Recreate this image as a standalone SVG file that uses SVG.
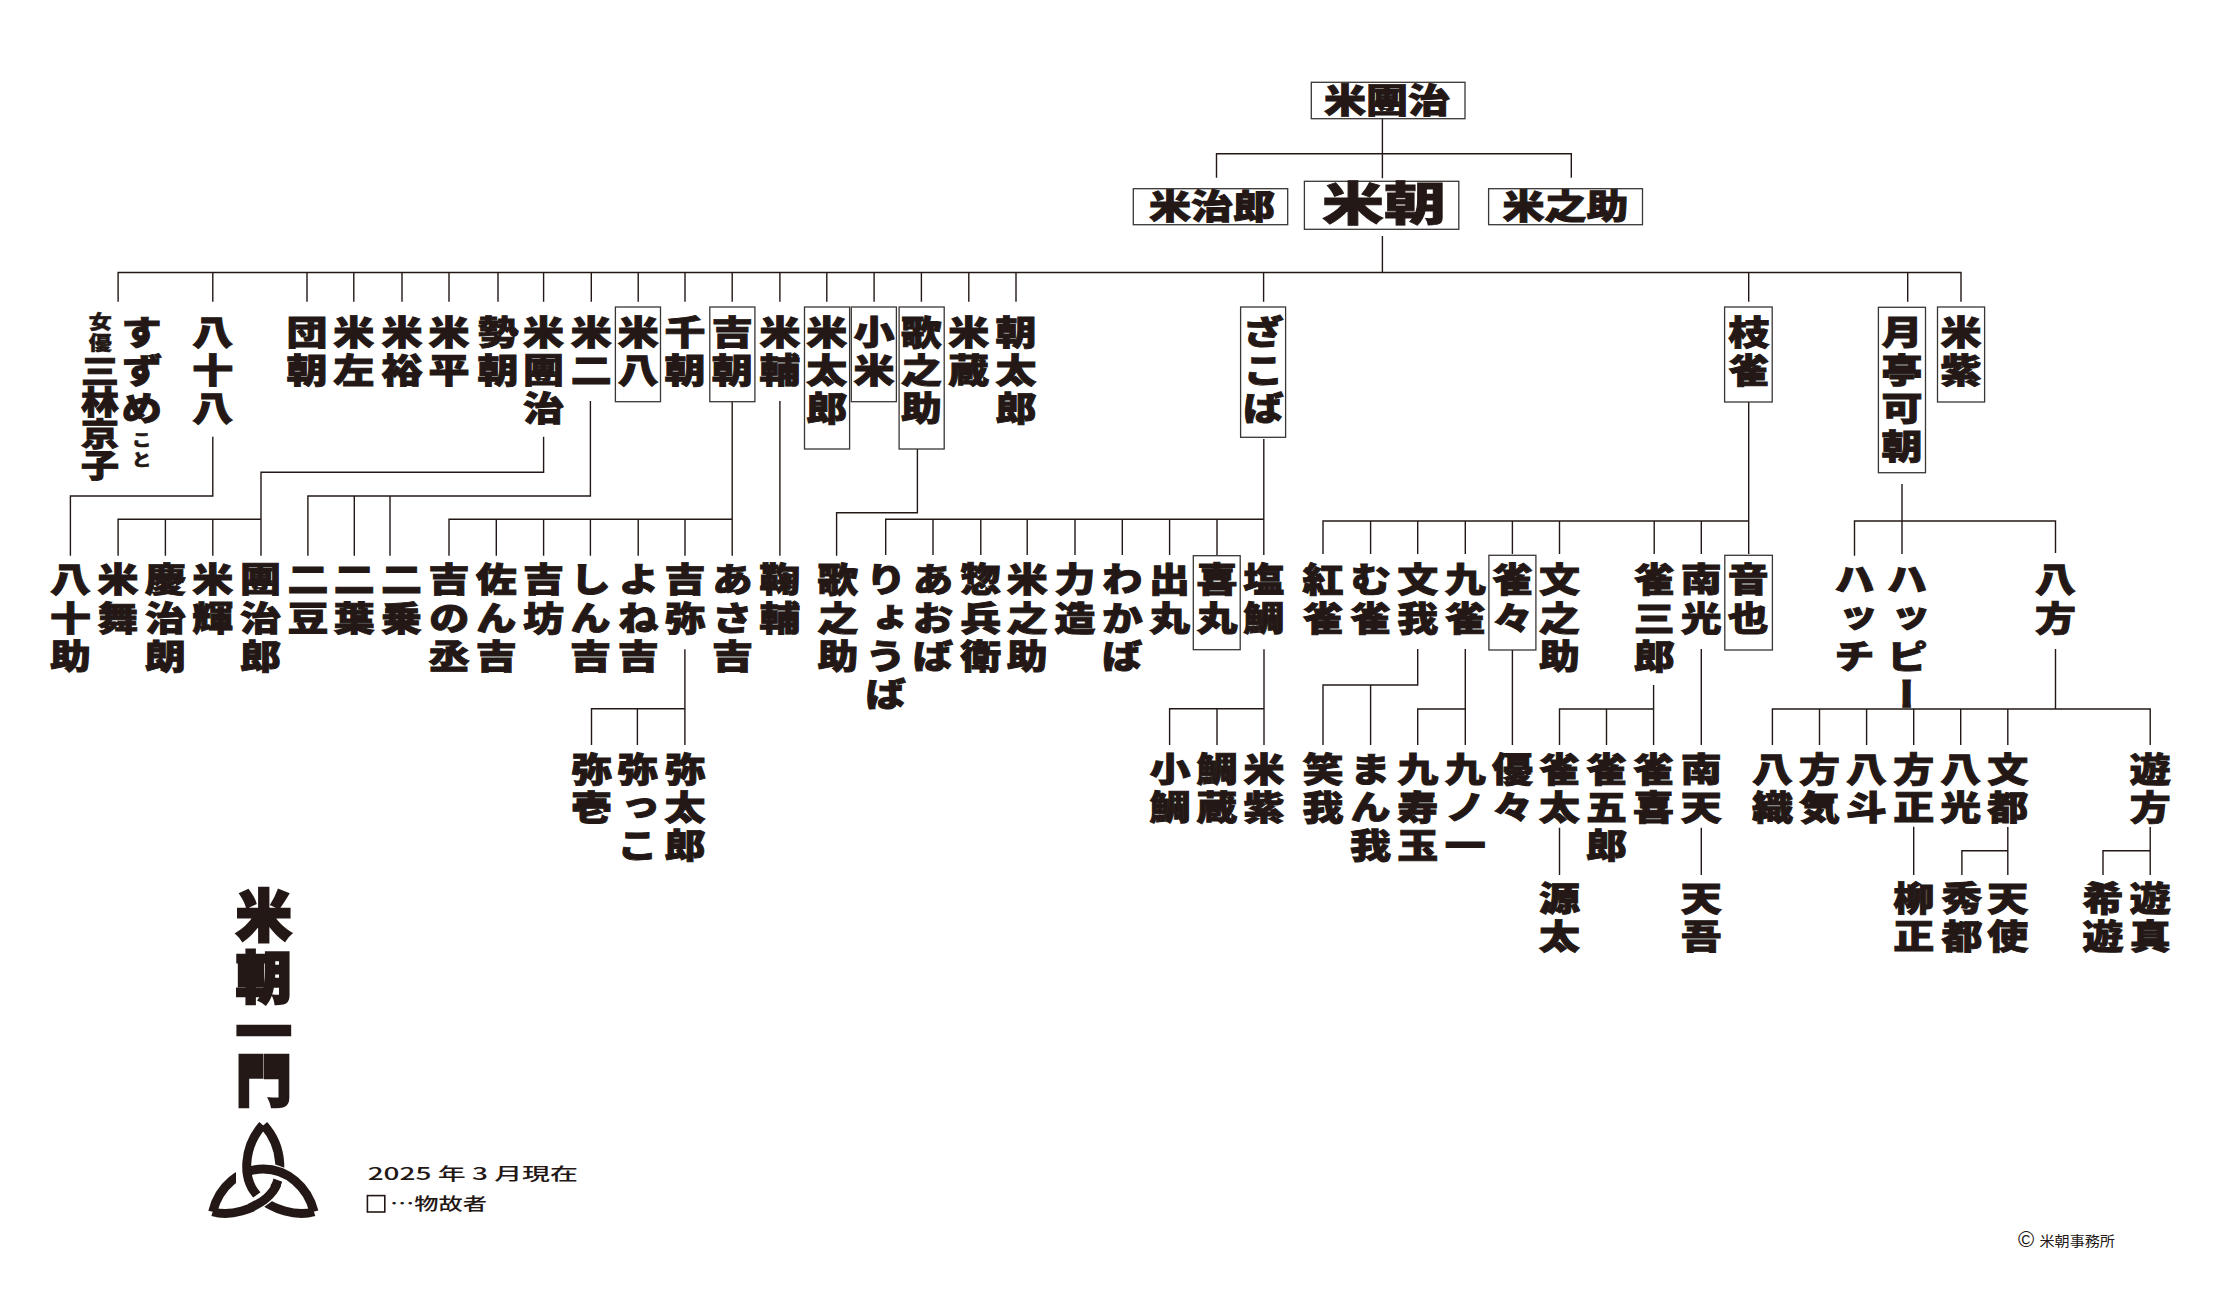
<svg xmlns="http://www.w3.org/2000/svg" width="2221" height="1300" viewBox="0 0 2221 1300">
<style>
.l{stroke:#231815;stroke-width:1.4;fill:none}
.b{fill:#fff;stroke:#3a3634;stroke-width:1.3}
text{font-family:"Noto Sans CJK JP","Noto Sans",sans-serif;fill:#231815}
.v{font-size:41px;font-weight:900;writing-mode:vertical-rl;letter-spacing:5px;stroke:#231815;stroke-width:1.1}
.h{font-size:42px;font-weight:900;text-anchor:middle;stroke:#231815;stroke-width:1.1}
.k{fill:none;stroke:#231815;stroke-width:9}
.w{fill:none;stroke:#fff;stroke-width:14}
</style>
<rect width="2221" height="1300" fill="#fff"/>
<g id="connectors">
<path class="l" d="M1382.4 118.7V178.3M1216.5 177.7V153.7H1571.3V177.7"/>
<path class="l" d="M1382.4 236V272.5M118.1 301.7V272.5H1961V301.7M212.8 272.5V301.7M307 272.5V301.7M353.8 272.5V301.7M402 272.5V301.7M449 272.5V301.7M498 272.5V301.7M543.6 272.5V301.7M591.3 272.5V301.7M638.2 272.5V301.7M685 272.5V301.7M732.2 272.5V301.7M779.9 272.5V301.7M826.8 272.5V301.7M874.1 272.5V301.7M921.4 272.5V301.7M968.8 272.5V301.7M1016 272.5V301.7M1263.6 272.5V301.7M1748.7 272.5V301.7M1907.7 272.5V301.7"/>
<path class="l" d="M212.8 436.7V496H70.4V555.7"/>
<path class="l" d="M543.6 436.7V472.3H261V555.7M118.1 555.7V519.3H261M165.4 519.3V555.7M212.8 519.3V555.7"/>
<path class="l" d="M590.4 401V496H307.9V555.7M354.3 496V555.7M390 496V555.7"/>
<path class="l" d="M732.2 402V555.7M449 555.7V519.3H732.2M496.3 519.3V555.7M543.6 519.3V555.7M590.4 519.3V555.7M638.2 519.3V555.7M685 519.3V555.7"/>
<path class="l" d="M779.9 401V555.7"/>
<path class="l" d="M917.4 449V512.7H836.6V555.7"/>
<path class="l" d="M1263.8 439V555M885.7 555V519.3H1263.8M933 519.3V555M980.8 519.3V555M1027.2 519.3V555M1075 519.3V555M1122.3 519.3V555M1169.6 519.3V555M1217 519.3V555"/>
<path class="l" d="M1748.7 402V554M1323 554V521H1748.7M1370.6 521V554M1417.7 521V554M1465.3 521V554M1512.4 521V554M1559.5 521V554M1654.2 521V554M1701.3 521V554"/>
<path class="l" d="M1902 484V554M1854.5 555.7V521H2055.5V553"/>
<path class="l" d="M684.9 649.3V745M591.5 745V708.7H684.9M637.4 708.7V745"/>
<path class="l" d="M1264 649.3V745M1169.6 745V708.7H1264M1217 708.7V745"/>
<path class="l" d="M1417.7 649V685H1323V745M1370.6 685V745"/>
<path class="l" d="M1465.3 649V745M1417.7 745V709H1465.3"/>
<path class="l" d="M1512.4 650V745"/>
<path class="l" d="M1653.6 685V745M1559.5 745V709H1653.6M1606.5 709V745"/>
<path class="l" d="M1701.3 649V745"/>
<path class="l" d="M2055.5 649V709M1772.4 745V709H2150.2V745M1819.5 709V745M1866.6 709V745M1913.7 709V745M1960.7 709V745M2007.8 709V745"/>
<path class="l" d="M1559.5 827.7V875M1701.3 827.7V875M1913.7 826.7V875"/>
<path class="l" d="M2007.8 827V875M1961.9 875V850.7H2007.8"/>
<path class="l" d="M2150.2 827V875M2103 875V850.7H2150.2"/>
</g>
<g id="n-beidanji"><rect class="b" x="1311.3" y="82.3" width="153.7" height="36.4"/><text class="h" transform="translate(1387 112.5) scale(1 .8)">米團治</text></g>
<g id="n-yoneji"><rect class="b" x="1133.3" y="188.7" width="154.4" height="36"/><text class="h" transform="translate(1212 219) scale(1 .8)">米治郎</text></g>
<g id="n-beicho"><rect class="b" x="1304.4" y="181.3" width="154.4" height="48"/><text class="h" style="font-size:62px" transform="translate(1384 220) scale(1 .74)">米朝</text></g>
<g id="n-yonenosuke"><rect class="b" x="1488.6" y="188.7" width="153.9" height="36"/><text class="h" transform="translate(1565.5 219) scale(1 .8)">米之助</text></g>
<g id="n-suzume"><text class="v" transform="translate(141.8 315) scale(1 .83)">すずめ</text><text class="v" style="font-size:20px;letter-spacing:4px;stroke-width:.6" transform="translate(141.8 431) scale(1 .83)">こと</text><text class="v" style="font-size:23px;letter-spacing:3px;stroke-width:.6" transform="translate(100.3 312) scale(1 .83)">女優</text><text class="v" style="font-size:38px;letter-spacing:0" transform="translate(100 355) scale(1 .83)">三林京子</text></g>
<g id="n-yasohachi"><text class="v" transform="translate(212.8 315) scale(1 .83)">八十八</text></g>
<g id="n-dancho"><text class="v" transform="translate(307 315) scale(1 .83)">団朝</text></g>
<g id="n-beisa"><text class="v" transform="translate(353.8 315) scale(1 .83)">米左</text></g>
<g id="n-beiyu"><text class="v" transform="translate(402 315) scale(1 .83)">米裕</text></g>
<g id="n-beihei"><text class="v" transform="translate(449 315) scale(1 .83)">米平</text></g>
<g id="n-seicho"><text class="v" transform="translate(498 315) scale(1 .83)">勢朝</text></g>
<g id="n-yonedanji"><text class="v" transform="translate(543.6 315) scale(1 .83)">米團治</text></g>
<g id="n-yoneji2"><text class="v" transform="translate(591.3 315) scale(1 .83)">米二</text></g>
<g id="n-beihachi"><rect class="b" x="615.4" y="307" width="45.1" height="94.7"/><text class="v" transform="translate(638.2 315) scale(1 .83)">米八</text></g>
<g id="n-sencho"><text class="v" transform="translate(685 315) scale(1 .83)">千朝</text></g>
<g id="n-kiccho"><rect class="b" x="709.8" y="307" width="45.1" height="94.7"/><text class="v" transform="translate(732.2 315) scale(1 .83)">吉朝</text></g>
<g id="n-beisuke"><text class="v" transform="translate(779.9 315) scale(1 .83)">米輔</text></g>
<g id="n-yonetaro"><rect class="b" x="804.5" y="307" width="45.1" height="142"/><text class="v" transform="translate(826.8 315) scale(1 .83)">米太郎</text></g>
<g id="n-koyone"><rect class="b" x="851.3" y="307" width="45.1" height="94.7"/><text class="v" transform="translate(874.1 315) scale(1 .83)">小米</text></g>
<g id="n-utanosuke"><rect class="b" x="899.1" y="307" width="45.1" height="142"/><text class="v" transform="translate(921.4 315) scale(1 .83)">歌之助</text></g>
<g id="n-yonezo"><text class="v" transform="translate(968.8 315) scale(1 .83)">米蔵</text></g>
<g id="n-asataro"><text class="v" transform="translate(1016 315) scale(1 .83)">朝太郎</text></g>
<g id="n-zakoba"><rect class="b" x="1240.6" y="307" width="45" height="130.3"/><text class="v" transform="translate(1263.6 315) scale(1 .83)">ざこば</text></g>
<g id="n-shijaku"><rect class="b" x="1724.6" y="307" width="47.6" height="95"/><text class="v" transform="translate(1748.7 315) scale(1 .83)">枝雀</text></g>
<g id="n-kacho"><rect class="b" x="1878.4" y="307.3" width="47.1" height="165.4"/><text class="v" transform="translate(1902 315) scale(1 .83)">月亭可朝</text></g>
<g id="n-yonemurasaki"><rect class="b" x="1937.5" y="307" width="47.1" height="95"/><text class="v" transform="translate(1961 315) scale(1 .83)">米紫</text></g>
<g id="n2-1"><text class="v" transform="translate(70.4 562.5) scale(1 .83)">八十助</text></g>
<g id="n2-2"><text class="v" transform="translate(118.1 562.5) scale(1 .83)">米舞</text></g>
<g id="n2-3"><text class="v" transform="translate(165.4 562.5) scale(1 .83)">慶治朗</text></g>
<g id="n2-4"><text class="v" transform="translate(212.8 562.5) scale(1 .83)">米輝</text></g>
<g id="n2-5"><text class="v" transform="translate(260.5 562.5) scale(1 .83)">團治郎</text></g>
<g id="n2-6"><text class="v" transform="translate(307.9 562.5) scale(1 .83)">二豆</text></g>
<g id="n2-7"><text class="v" transform="translate(354.3 562.5) scale(1 .83)">二葉</text></g>
<g id="n2-8"><text class="v" transform="translate(401.6 562.5) scale(1 .83)">二乗</text></g>
<g id="n2-9"><text class="v" transform="translate(449 562.5) scale(1 .83)">吉の丞</text></g>
<g id="n2-10"><text class="v" transform="translate(496.3 562.5) scale(1 .83)">佐ん吉</text></g>
<g id="n2-11"><text class="v" transform="translate(543.6 562.5) scale(1 .83)">吉坊</text></g>
<g id="n2-12"><text class="v" transform="translate(590.4 562.5) scale(1 .83)">しん吉</text></g>
<g id="n2-13"><text class="v" transform="translate(638.2 562.5) scale(1 .83)">よね吉</text></g>
<g id="n2-14"><text class="v" transform="translate(685 562.5) scale(1 .83)">吉弥</text></g>
<g id="n2-15"><text class="v" transform="translate(732.4 562.5) scale(1 .83)">あさ吉</text></g>
<g id="n2-16"><text class="v" transform="translate(779.9 562.5) scale(1 .83)">鞠輔</text></g>
<g id="n2-17"><text class="v" transform="translate(838 562.5) scale(1 .83)">歌之助</text></g>
<g id="n2-18"><text class="v" transform="translate(885.7 562.5) scale(1 .83)">りょうば</text></g>
<g id="n2-19"><text class="v" transform="translate(933 562.5) scale(1 .83)">あおば</text></g>
<g id="n2-20"><text class="v" transform="translate(980.8 562.5) scale(1 .83)">惣兵衛</text></g>
<g id="n2-21"><text class="v" transform="translate(1027.2 562.5) scale(1 .83)">米之助</text></g>
<g id="n2-22"><text class="v" transform="translate(1075 562.5) scale(1 .83)">力造</text></g>
<g id="n2-23"><text class="v" transform="translate(1122.3 562.5) scale(1 .83)">わかば</text></g>
<g id="n2-24"><text class="v" transform="translate(1169.6 562.5) scale(1 .83)">出丸</text></g>
<g id="n2-25"><rect class="b" x="1193.3" y="555.7" width="46.9" height="94"/><text class="v" transform="translate(1217 562.5) scale(1 .83)">喜丸</text></g>
<g id="n2-26"><text class="v" transform="translate(1263.8 562.5) scale(1 .83)">塩鯛</text></g>
<g id="n2-27"><text class="v" transform="translate(1323 562.5) scale(1 .83)">紅雀</text></g>
<g id="n2-28"><text class="v" transform="translate(1370.6 562.5) scale(1 .83)">む雀</text></g>
<g id="n2-29"><text class="v" transform="translate(1417.7 562.5) scale(1 .83)">文我</text></g>
<g id="n2-30"><text class="v" transform="translate(1465.3 562.5) scale(1 .83)">九雀</text></g>
<g id="n2-31"><rect class="b" x="1488.9" y="555.3" width="47" height="94.7"/><text class="v" transform="translate(1512.4 562.5) scale(1 .83)">雀々</text></g>
<g id="n2-32"><text class="v" transform="translate(1559.5 562.5) scale(1 .83)">文之助</text></g>
<g id="n2-33"><text class="v" transform="translate(1654.2 562.5) scale(1 .83)">雀三郎</text></g>
<g id="n2-34"><text class="v" transform="translate(1701.3 562.5) scale(1 .83)">南光</text></g>
<g id="n2-35"><rect class="b" x="1724.8" y="555.3" width="47.6" height="94.7"/><text class="v" transform="translate(1748.3 562.5) scale(1 .83)">音也</text></g>
<g id="n2-36"><text class="v" transform="translate(1854.5 562.5) scale(1 .83)">ハッチ</text></g>
<g id="n2-37"><text class="v" transform="translate(1907 562.5) scale(1 .83)">ハッピー</text></g>
<g id="n2-38"><text class="v" transform="translate(2055.5 562.5) scale(1 .83)">八方</text></g>
<g id="n3-1"><text class="v" transform="translate(591.5 752) scale(1 .83)">弥壱</text></g>
<g id="n3-2"><text class="v" transform="translate(637.4 752) scale(1 .83)">弥っこ</text></g>
<g id="n3-3"><text class="v" transform="translate(684.9 752) scale(1 .83)">弥太郎</text></g>
<g id="n3-4"><text class="v" transform="translate(1170 752) scale(1 .83)">小鯛</text></g>
<g id="n3-5"><text class="v" transform="translate(1217 752) scale(1 .83)">鯛蔵</text></g>
<g id="n3-6"><text class="v" transform="translate(1264 752) scale(1 .83)">米紫</text></g>
<g id="n3-7"><text class="v" transform="translate(1323 752) scale(1 .83)">笑我</text></g>
<g id="n3-8"><text class="v" transform="translate(1370.6 752) scale(1 .83)">まん我</text></g>
<g id="n3-9"><text class="v" transform="translate(1417.7 752) scale(1 .83)">九寿玉</text></g>
<g id="n3-10"><text class="v" transform="translate(1465.3 752) scale(1 .83)">九ノ一</text></g>
<g id="n3-11"><text class="v" transform="translate(1512.4 752) scale(1 .83)">優々</text></g>
<g id="n3-12"><text class="v" transform="translate(1559.5 752) scale(1 .83)">雀太</text></g>
<g id="n3-13"><text class="v" transform="translate(1606.5 752) scale(1 .83)">雀五郎</text></g>
<g id="n3-14"><text class="v" transform="translate(1653.6 752) scale(1 .83)">雀喜</text></g>
<g id="n3-15"><text class="v" transform="translate(1701.3 752) scale(1 .83)">南天</text></g>
<g id="n3-16"><text class="v" transform="translate(1772.4 752) scale(1 .83)">八織</text></g>
<g id="n3-17"><text class="v" transform="translate(1819.5 752) scale(1 .83)">方気</text></g>
<g id="n3-18"><text class="v" transform="translate(1866.6 752) scale(1 .83)">八斗</text></g>
<g id="n3-19"><text class="v" transform="translate(1913.7 752) scale(1 .83)">方正</text></g>
<g id="n3-20"><text class="v" transform="translate(1960.7 752) scale(1 .83)">八光</text></g>
<g id="n3-21"><text class="v" transform="translate(2007.8 752) scale(1 .83)">文都</text></g>
<g id="n3-22"><text class="v" transform="translate(2150.2 752) scale(1 .83)">遊方</text></g>
<g id="n4-1"><text class="v" transform="translate(1559.5 881) scale(1 .83)">源太</text></g>
<g id="n4-2"><text class="v" transform="translate(1701.3 881) scale(1 .83)">天吾</text></g>
<g id="n4-3"><text class="v" transform="translate(1913.7 881) scale(1 .83)">柳正</text></g>
<g id="n4-4"><text class="v" transform="translate(1961.9 881) scale(1 .83)">秀都</text></g>
<g id="n4-5"><text class="v" transform="translate(2007.8 881) scale(1 .83)">天使</text></g>
<g id="n4-6"><text class="v" transform="translate(2103 881) scale(1 .83)">希遊</text></g>
<g id="n4-7"><text class="v" transform="translate(2150.2 881) scale(1 .83)">遊真</text></g>
<g id="title"><text style="font-size:56px;font-weight:900;text-anchor:middle;stroke:#231815;stroke-width:2.6" x="263.7 263.7 263.7 263.7" y="936 998 1052 1101">米朝一門</text></g>
<g id="crest">
<path class="k" d="M263.8 1125C282.5 1146 286.5 1180 266.5 1198C254.5 1209 230.5 1217 212.7 1211.7"/>
<path class="w" d="M273 1171L295 1179"/>
<path class="k" d="M212.7 1211.7C219 1186 240 1169 263.3 1169C286.5 1169 307.5 1186 314 1211.7"/>
<path class="w" d="M243 1160V1186"/>
<path class="k" d="M262.7 1125C244 1146 240 1180 260 1198C272 1209 296 1217 314 1211.7"/>
<path class="w" d="M252 1207L274 1191"/>
<path class="k" d="M277 1184C274 1191 271 1194 266.5 1198C261 1203 256 1205 250 1208"/>
</g>
<g id="legend">
<text style="font-size:17px;font-weight:500" x="367.7" y="1180" textLength="210.3" lengthAdjust="spacingAndGlyphs">2025 年 3 月現在</text>
<rect x="367.4" y="1195.6" width="17.4" height="16.4" fill="none" stroke="#231815" stroke-width="1.6"/>
<text style="font-size:17px;font-weight:500" x="390" y="1210" textLength="97" lengthAdjust="spacingAndGlyphs">…物故者</text>
</g>
<g id="copyright">
<text style="font-size:22px;font-family:'Liberation Sans',sans-serif" x="2018" y="1247">©</text>
<text style="font-size:14px" x="2039.4" y="1246" textLength="75.6" lengthAdjust="spacingAndGlyphs">米朝事務所</text>
</g>
</svg>
